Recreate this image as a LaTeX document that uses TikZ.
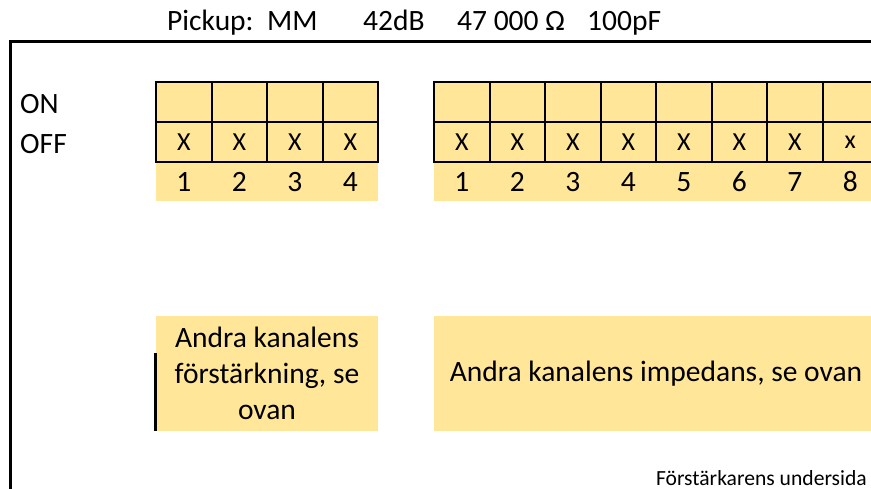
\documentclass[tikz,border=0pt]{standalone}
\usepackage{fontspec}
\setmainfont{Carlito}
\definecolor{cellyellow}{RGB}{255,230,153}
\usetikzlibrary{positioning}

\begin{document}
\begin{tikzpicture}[
  x=1pt, y=-1pt,
  cell/.style={rectangle, draw=black, line width=2pt, fill=cellyellow, minimum width=55.5pt, minimum height=40pt, inner sep=0pt, font=\fontsize{26}{30}\selectfont},
  numcell/.style={rectangle, fill=cellyellow, minimum width=55.5pt, minimum height=38pt, inner sep=0pt, font=\fontsize{29.5}{34}\selectfont},
  lbl/.style={anchor=base west, inner sep=0pt, font=\fontsize{29.5}{34}\selectfont},
  note/.style={rectangle, fill=cellyellow, inner sep=0pt, minimum height=115pt, align=center, font=\fontsize{29.5}{36}\selectfont}
]
  \useasboundingbox (0,0) rectangle (871,489);
  \clip (0,0) rectangle (871,489);

  % title line
  \node[lbl] (tpickup) at (167,31) {Pickup:};
  \node[lbl] (tmm) at (267,31) {MM};
  \node[lbl] (tgain) at (363,31) {42dB};
  \node[lbl] (timp) at (457,31) {47 000 Ω};
  \node[lbl] (tcap) at (587,31) {100pF};

  % frame
  \draw[line width=3pt] (10,489) -- (10,41.5) -- (880,41.5);

  \node[lbl] (on) at (20,113.3) {ON};
  \node[lbl] (off) at (20,153.3) {OFF};

  % gain switches
  \foreach \i in {1,...,4} {
    \node[numcell] (lnum\i) at ({128.25+55.5*\i},182) {\i};
    \node[cell] (lon\i) at ({128.25+55.5*\i},102) {};
    \node[cell] (loff\i) at ({128.25+55.5*\i},142) {X};
  }

  % impedance switches
  \foreach \i/\m in {1/X,2/X,3/X,4/X,5/X,6/X,7/X,8/x} {
    \node[numcell] (rnum\i) at ({406.25+55.5*\i},182) {\i};
    \node[cell] (ron\i) at ({406.25+55.5*\i},102) {};
    \node[cell] (roff\i) at ({406.25+55.5*\i},142) {\m};
  }

  \node[note, minimum width=222pt] (lnote) at (267,373.5) {Andra kanalens\\förstärkning, se\\ovan};
  \node[note, minimum width=444pt] (rnote) at (656,373.5) {Andra kanalens impedans, se ovan};
  \draw[line width=2.7pt] ([yshift=78pt]lnote.south west) -- (lnote.south west);

  \node[anchor=base east, inner sep=0pt, font=\fontsize{21.6}{24}\selectfont] (underside) at (867,485) {Förstärkarens undersida};
\end{tikzpicture}
\end{document}
